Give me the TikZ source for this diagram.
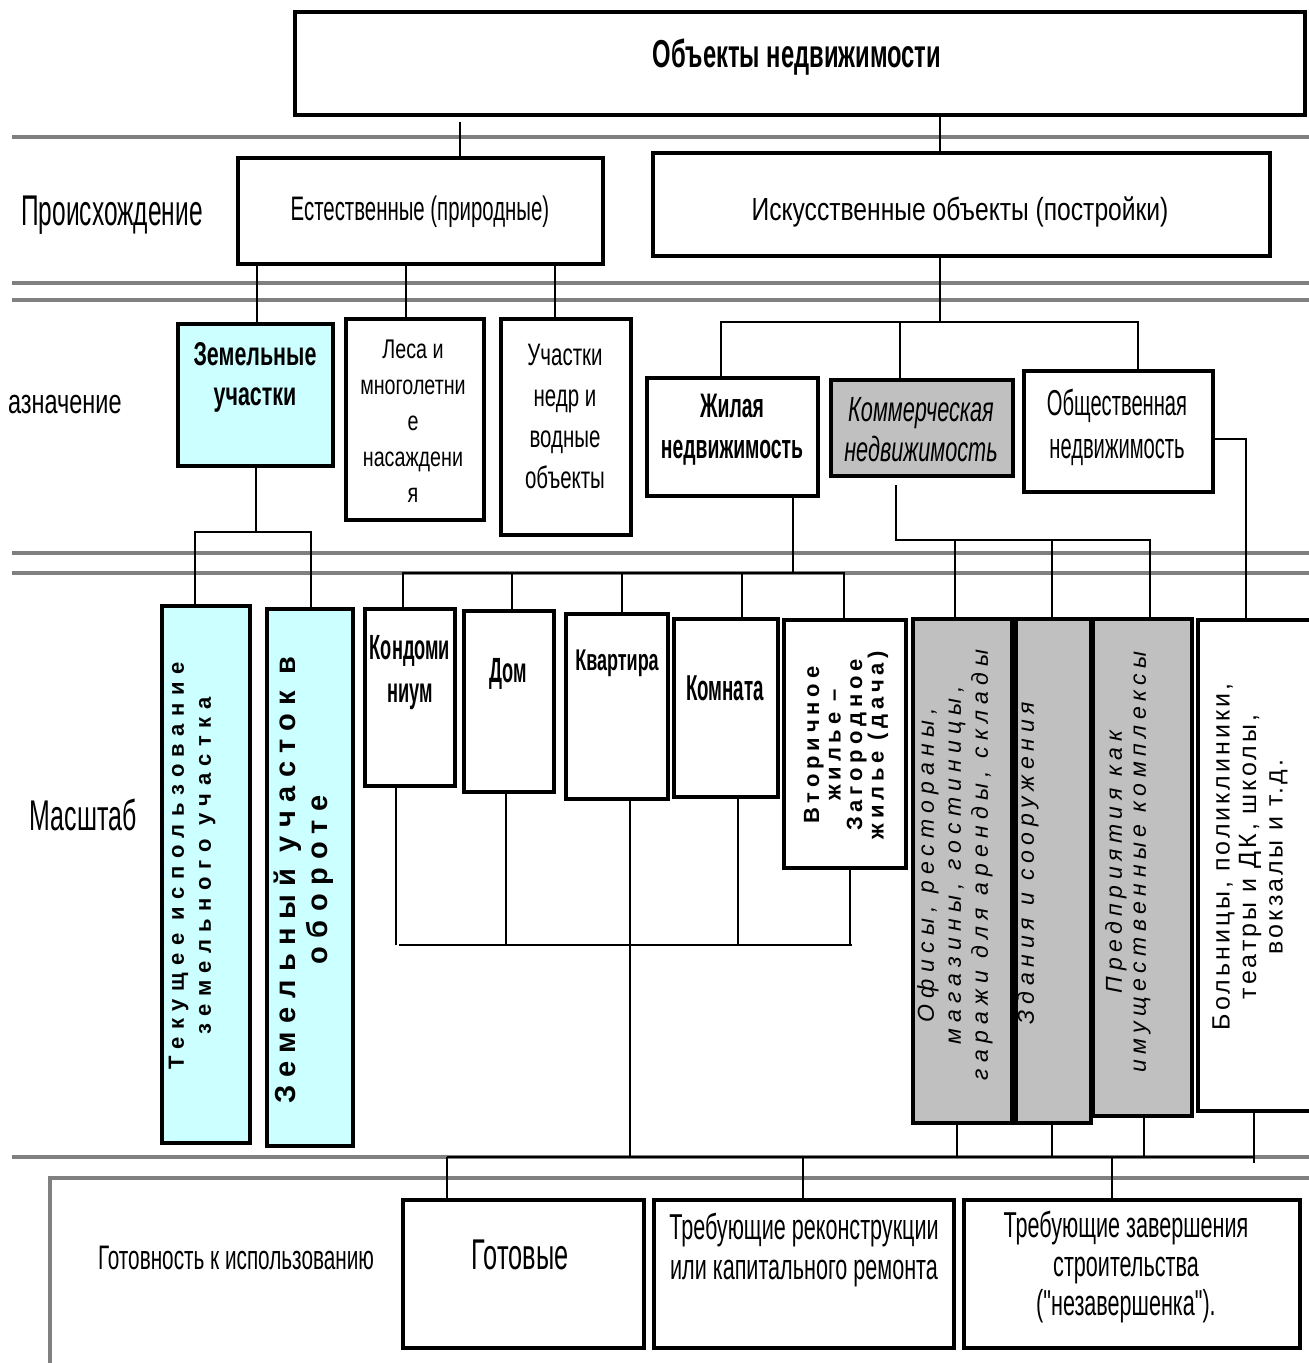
\documentclass[tikz,border=0pt]{standalone}
\usepackage{fontspec}
\setmainfont{Liberation Sans}
\usetikzlibrary{fit}
\newcommand{\nf}[3]{\fontspec{Liberation Sans}[FakeStretch=#1]\fontsize{#2}{#3}\selectfont}
\newcommand{\lf}[3]{\fontspec{Liberation Sans}[LetterSpace=#1]\fontsize{#2}{#3}\selectfont}
\definecolor{cyanbox}{HTML}{CCFFFF}
\definecolor{graybox}{HTML}{C0C0C0}
\definecolor{gline}{HTML}{808080}
\begin{document}
\begin{tikzpicture}[x=1pt,y=-1pt,
  box/.style={draw, line width=3.2pt, fill=white, inner sep=0pt},
  cbox/.style={box, fill=cyanbox},
  gbox/.style={box, fill=graybox},
  conn/.style={draw, line width=2.8pt},
  grayline/.style={draw=gline, line width=4pt},
  tx/.style={inner sep=0pt, align=center}]
\useasboundingbox (0,0) rectangle (1309,1363);
\fill[white] (0,0) rectangle (1309,1363);
% gray level lines
\foreach \yy in {137,283,300,553,573,1157} \draw[grayline] (12,\yy) -- (1309,\yy);
\draw[grayline] (50,1363) -- (50,1178) -- (1309,1178);
% boxes
\node[box, fit={(295,12) (1305,115)}] (top) {};
\node[box, fit={(238,158) (603,264)}] (est) {};
\node[box, fit={(653,153) (1270,256)}] (isk) {};
\node[cbox, fit={(178,324) (333,466)}] (zem) {};
\node[box, fit={(346,319) (484,520)}] (les) {};
\node[box, fit={(501,319) (631,535)}] (nedr) {};
\node[box, fit={(647,378) (818,496)}] (zhil) {};
\node[gbox, fit={(831,380) (1013,476)}] (komm) {};
\node[box, fit={(1024,371) (1213,492)}] (obsh) {};
\node[cbox, fit={(162,606) (250,1143)}] (tek) {};
\node[cbox, fit={(267,609) (353,1146)}] (zob) {};
\node[box, fit={(365,609) (455,786)}] (kond) {};
\node[box, fit={(464,611) (554,792)}] (dom) {};
\node[box, fit={(566,614) (668,799)}] (kv) {};
\node[box, fit={(674,619) (778,797)}] (komn) {};
\node[box, fit={(784,620) (906,868)}] (vtor) {};
\node[gbox, fit={(913,619) (1012,1123)}] (ofis) {};
\node[gbox, fit={(1016,619) (1091,1123)}] (zdan) {};
\node[gbox, fit={(1093,619) (1192,1116)}] (pred) {};
\draw[line width=3.2pt] (1309,620) -- (1198,620) -- (1198,1111) -- (1309,1111);
\coordinate (bolnN) at (1246,620);
\coordinate (bolnS) at (1254,1111);
\node[box, fit={(403,1200) (644,1348)}] (got) {};
\node[box, fit={(654,1200) (954,1348)}] (rek) {};
\node[box, fit={(964,1200) (1300,1348)}] (zav) {};
% connectors
\draw[conn] (460,122) -- (460,0 |- est.north);
\draw[conn] (940,0 |- top.south) -- (940,0 |- isk.north);
\foreach \xx/\tg in {257/zem,406/les,555/nedr} \draw[conn] (\xx,0 |- est.south) -- (\xx,0 |- \tg.north);
\draw[conn] (940,0 |- isk.south) -- (940,322);
\draw[conn] (721,0 |- zhil.north) |- (1138,322) -- (1138,0 |- obsh.north);
\draw[conn] (900,322) -- (900,0 |- komm.north);
\draw[conn] (256,0 |- zem.south) -- (256,532);
\draw[conn] (195,0 |- tek.north) |- (311,532) -- (311,0 |- zob.north);
\draw[conn] (793,0 |- zhil.south) -- (793,573);
\draw[conn] (403,0 |- kond.north) |- (844,573) -- (844,0 |- vtor.north);
\foreach \xx/\tg in {512/dom,622/kv,742/komn} \draw[conn] (\xx,573) -- (\xx,0 |- \tg.north);
\draw[conn] (896,485) |- (1150,540) -- (1150,0 |- pred.north);
\foreach \xx/\tg in {955/ofis,1052/zdan} \draw[conn] (\xx,540) -- (\xx,0 |- \tg.north);
\draw[conn] (obsh.east |- 0,439) -| (bolnN);
\draw[conn] (396,0 |- kond.south) -- (396,945);
\draw[conn] (399,945) -- (852,945);
\foreach \xx/\tg in {506/dom,738/komn,850/vtor} \draw[conn] (\xx,0 |- \tg.south) -- (\xx,945);
\draw[conn] (630,0 |- kv.south) -- (630,1157);
\foreach \xx/\tg in {957/ofis,1052/zdan,1144/pred} \draw[conn] (\xx,0 |- \tg.south) -- (\xx,1157);
\draw[conn] (bolnS) -- (1254,1163);
\draw[conn] (447,1157) -- (1254,1157);
\foreach \xx/\tg in {447/got,803/rek,1112/zav} \draw[conn] (\xx,1157) -- (\xx,0 |- \tg.north);
% level labels
\node[tx, font={\nf{0.57}{43}{48}}] (lbl1) at (112,215) {Происхождение};
\node[tx, anchor=west, font={\nf{0.69}{34}{40}}] (lbl2) at (8,405) {азначение};
\node[tx, font={\nf{0.58}{43}{48}}] (lbl3) at (83,815) {Масштаб};
\node[tx, font={\nf{0.61}{34}{40}}] (lbl4) at (236,1258) {Готовность к использованию};
% box texts
\node[tx, font={\nf{0.61}{39}{44}\bfseries}] (ttop) at (797,57) {Объекты недвижимости};
\node[tx, font={\nf{0.60}{34}{40}}] (test) at (420,212) {Естественные (природные)};
\node[tx, font={\nf{0.77}{32}{38}}] (tisk) at (960,212) {Искусственные объекты (постройки)};
\node[tx, font={\nf{0.65}{33}{40}\bfseries}] (tzem) at (255,377) {Земельные\\участки};
\node[tx, font={\nf{0.73}{27}{36}}] (tles) at (413,421) {Леса и\\многолетни\\е\\насаждени\\я};
\node[tx, font={\nf{0.66}{31}{41}}] (tnedr) at (565,416) {Участки\\недр и\\водные\\объекты};
\node[tx, font={\nf{0.57}{34}{41}\bfseries}] (tzhil) at (732,430) {Жилая\\недвижимость};
\node[tx, font={\nf{0.62}{35}{40}\itshape}] (tkomm) at (921,430) {Коммерческая\\недвижимость};
\node[tx, font={\nf{0.56}{36}{43}}] (tobsh) at (1117,427) {Общественная\\недвижимость};
\node[tx, font={\nf{0.52}{35}{43}\bfseries}] (tkond) at (410,673) {Кондоми\\ниум};
\node[tx, font={\nf{0.52}{35}{40}\bfseries}] (tdom) at (508,674) {Дом};
\node[tx, font={\nf{0.60}{30}{36}\bfseries}] (tkv) at (617,663) {Квартира};
\node[tx, font={\nf{0.52}{36}{40}\bfseries}] (tkomn) at (725,688) {Комната};
\node[tx, font={\nf{0.59}{43}{48}}] (tgot) at (520,1255) {Готовые};
\node[tx, font={\nf{0.60}{36}{40}}] (trek) at (804,1250) {Требующие реконструкции\\или капитального ремонта};
\node[tx, font={\nf{0.60}{36}{39}}] (tzav) at (1126,1267) {Требующие завершения\\строительства\\("незавершенка").};
% rotated texts
\node[tx, rotate=90, font={\lf{34}{22}{27}\bfseries}] (ttek) at (192,866) {Текущее использование\\земельного участка};
\node[tx, rotate=90, font={\lf{29}{29}{32}\bfseries}] (tzob) at (304,880) {Земельный участок в\\обороте};
\node[tx, rotate=90, font={\lf{22}{22}{21.5}\bfseries}] (tvtor) at (846,745) {Вторичное\\жилье –\\Загородное\\жилье (дача)};
\node[tx, rotate=90, font={\lf{27}{23}{27}\itshape}] (tofis) at (955,865) {Офисы, рестораны,\\магазины, гостиницы,\\гаражи для аренды, склады};
\node[tx, rotate=90, font={\lf{25}{23}{27}\itshape}] (tzdan) at (1028,863) {Здания и сооружения};
\node[tx, rotate=90, font={\lf{24}{23}{24}\itshape}] (tpred) at (1128,862) {Предприятия как\\имущественные комплексы};
\node[tx, rotate=90, font={\lf{12}{25}{26.5}}] (tboln) at (1250,857) {Больницы, поликлиники,\\театры и ДК, школы,\\вокзалы и т.д.};
\end{tikzpicture}
\end{document}
